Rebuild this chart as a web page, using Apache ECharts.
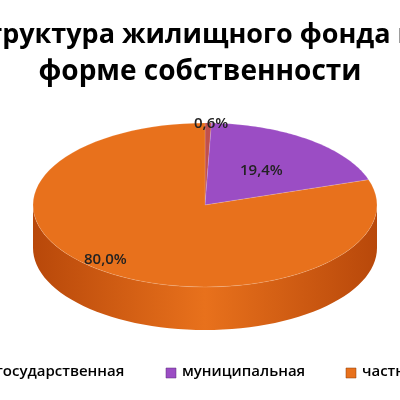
<!DOCTYPE html><html><head><meta charset="utf-8"><script src="https://cdn.jsdelivr.net/npm/echarts@6/dist/echarts.min.js"></script>
<style>html,body{margin:0;background:#fff}#c{width:400px;height:400px}</style></head><body><div id="c"></div><script>
var categories=['государственная','муниципальная','частная'];
var values=[0.6,19.4,80.0];
var labels=['0,6%','19,4%','80,0%'];
var topColors=['#C0504D','#9B4DC4','#E8711C'];
var sideColors=['#8E2F2C','#6E2C90','#B8480A'];
var chart=echarts.init(document.getElementById('c'));
var cx=205,cy=205,rx=172,ry=82,depth=43;
function pt(t,dy){return [cx+rx*Math.sin(t),cy-ry*Math.cos(t)+(dy||0)];}
function render(params,api){
  var total=values.reduce(function(a,b){return a+b;},0);
  var children=[],tops=[],acc=0;
  values.forEach(function(v,i){
    var a1=acc/total*2*Math.PI,a2=(acc+v)/total*2*Math.PI;acc+=v;
    var s=Math.max(a1,Math.PI/2),e=Math.min(a2,3*Math.PI/2);
    if(e>s){var up=[],dn=[];for(var k=0;k<=60;k++){var t=s+(e-s)*k/60;up.push(pt(t));dn.unshift(pt(t,depth));}
      children.push({type:'polygon',shape:{points:up.concat(dn)},style:{fill:new echarts.graphic.LinearGradient(0,0,1,0,[{offset:0,color:sideColors[i]},{offset:0.5,color:topColors[i]},{offset:1,color:sideColors[i]}])}});}
    var pts=[[cx,cy]];for(var k=0;k<=80;k++)pts.push(pt(a1+(a2-a1)*k/80));
    tops.push({type:'polygon',shape:{points:pts},style:{fill:topColors[i],stroke:'rgba(255,255,255,0.3)',lineWidth:0.5}});
  });
  return {type:'group',children:children.concat(tops)};
}
var font='"Open Sans", sans-serif';
function lbl(t,x,y){return {type:'text',z:100,x:x,y:y,style:{text:t,font:'600 15px '+font,fill:'#222'}};}
chart.setOption({
  animation:false,
  series:[{type:'custom',coordinateSystem:'none',renderItem:render,data:[0],z:1}],
  graphic:[
    {type:'text',z:100,x:-30,y:22,style:{text:'Структура жилищного фонда по',font:'bold 27px '+font,fill:'#000'}},
    {type:'text',z:100,left:'center',top:58,style:{text:'форме собственности',font:'bold 28px '+font,fill:'#000'}},
    lbl(labels[0],194,116),lbl(labels[1],240,163),lbl(labels[2],84,252),
    {type:'rect',z:100,shape:{x:-20,y:368,width:10,height:10},style:{fill:topColors[0]}},
    {type:'text',z:100,x:-4,y:364,style:{text:categories[0],font:'600 15px '+font,fill:'#000'}},
    {type:'rect',z:100,shape:{x:166,y:368,width:10,height:10},style:{fill:topColors[1],stroke:'#5a2a7a',lineWidth:0.5}},
    {type:'text',z:100,x:182,y:364,style:{text:categories[1],font:'600 15px '+font,fill:'#000'}},
    {type:'rect',z:100,shape:{x:346,y:368,width:10,height:10},style:{fill:topColors[2],stroke:'#8a3a05',lineWidth:0.5}},
    {type:'text',z:100,x:362,y:364,style:{text:categories[2],font:'600 15px '+font,fill:'#000'}}
  ]
});
</script></body></html>
